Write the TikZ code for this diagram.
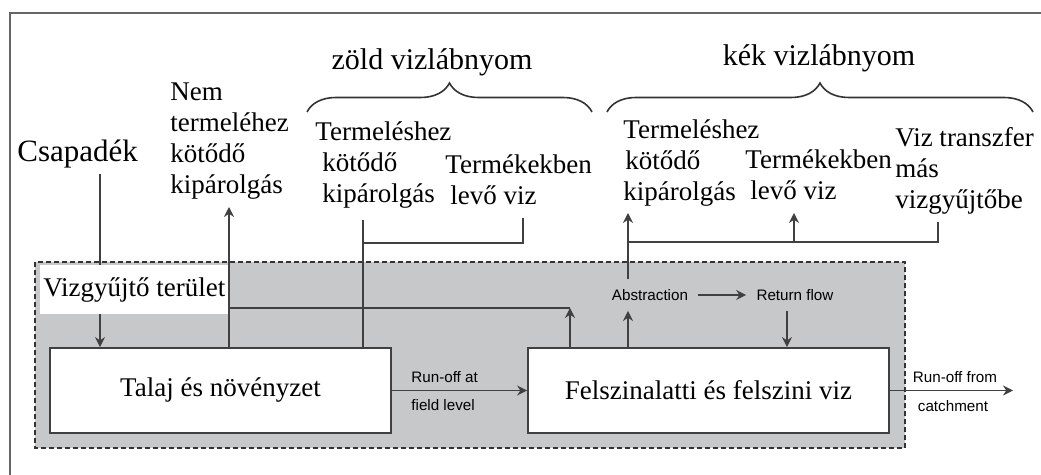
\documentclass[tikz,border=0pt]{standalone}
\usepackage{fontspec}
\setmainfont{Liberation Serif}
\setsansfont{Liberation Sans}
\usetikzlibrary{arrows.meta, decorations.pathreplacing, positioning}
\definecolor{szurke}{RGB}{199,200,202}
\tikzstyle{doboz} = [draw=black!75, line width=0.9pt, fill=white, minimum height=42.5pt, font=\fontsize{13.5}{15.5}\selectfont]
\tikzstyle{felirat} = [align=left, anchor=north west, inner sep=0pt, font=\fontsize{13.5}{15.5}\selectfont]
\tikzstyle{cim} = [inner sep=0pt, font=\fontsize{15}{17}\selectfont]
\tikzstyle{kicsi} = [inner sep=0pt, font=\sffamily\fontsize{7.6}{9}\selectfont]
\tikzstyle{nyil} = [draw=black!75, line width=0.9pt, -{Stealth[length=5pt,width=5pt]}]
\tikzstyle{vonal} = [draw=black!75, line width=0.9pt]
\tikzstyle{kapcsos} = [draw=black!80, line width=0.8pt, decorate, decoration={brace, amplitude=14.5pt}]

\begin{document}
\begin{tikzpicture}[x=0.5pt, y=-0.5pt]
	\useasboundingbox (0,0) rectangle (1041,475);
	\draw[black!60, line width=1pt] (1041,13) -- (10,13) -- (10,475);
	% vizgyujto terulet
	\draw[fill=szurke, draw=black!80, line width=0.9pt, dash pattern=on 2.5pt off 1.5pt] (35,262) rectangle (905,448);
	\node[doboz, minimum width=170.5pt] (talaj) at (220.5,390.5) {Talaj és növényzet};
	\node[doboz, minimum width=180.5pt] (felszin) at (708.5,390.5) {Felszinalatti és felszini viz};

	\node[inner sep=0pt, anchor=base west, font=\fontsize{15.5}{17}\selectfont] (csapadek) at (17,162) {Csapadék};
	\coordinate (cs) at (100,174);
	\draw[nyil] (cs) -- (talaj.north -| cs);
	\node[fill=white, anchor=north west, minimum width=94pt, minimum height=24.5pt, inner sep=0pt, font=\fontsize{13.5}{15.5}\selectfont] (terulet) at (40,265) {Vizgyűjtő terület};

	% szovegek
	\node[felirat] (nem) at (170,82) {Nem\\termeléhez\\kötődő\\kipárolgás};
	\node[felirat] (zoldkip) at (315,121) {Termeléshez\\\hspace*{3.5pt}kötődő\\\hspace*{3.5pt}kipárolgás};
	\node[felirat] (zoldterm) at (445,154) {Termékekben\\\hspace*{2.5pt}levő viz};
	\node[felirat] (kekkip) at (623,119) {Termeléshez\\\hspace*{1pt}kötődő\\kipárolgás};
	\node[felirat] (kekterm) at (745,149) {Termékekben\\\hspace*{2.5pt}levő viz};
	\node[felirat] (transz) at (895,127) {Viz transzfer\\más\\vizgyűjtőbe};

	\node[cim] (zold) at (432,62) {zöld vizlábnyom};
	\node[cim] (kek) at (819,58) {kék vizlábnyom};
	\draw[kapcsos] (307,112) -- (592,112);
	\draw[kapcsos] (607,112) -- (1033,112);

	% zold
	\coordinate (nk) at (229,207);
	\coordinate (fk) at (570,308);
	\draw[nyil] (talaj.north -| nk) -- (nk);
	\draw[vonal] (nk |- fk) -- (fk);
	\draw[nyil] (felszin.north -| fk) -- (fk);
	\coordinate (zk) at (363,220);
	\coordinate (zt) at (523,218);
	\draw[vonal] (zk) -- (talaj.north -| zk);
	\draw[vonal] (zk |- 0,243) -| (zt);

	% kek
	\node[kicsi, inner xsep=5pt, inner ysep=5pt] (abs) at (650,295) {Abstraction};
	\node[kicsi, inner xsep=5pt, inner ysep=5pt] (ret) at (795,295) {Return flow};
	\coordinate (kk) at (628,213);
	\coordinate (kt) at (794,213);
	\coordinate (kv) at (938,222);
	\draw[nyil] (abs.north -| kk) -- (kk);
	\draw[vonal] (kk |- 0,242) -| (kv);
	\draw[nyil] (kt |- 0,242) -- (kt);
	\draw[nyil] (felszin.north -| kk) -- (abs.south -| kk);
	\draw[nyil] (abs) -- (ret);
	\draw[nyil] (ret.south -| 787,0) -- (felszin.north -| 787,0);

	% lefolyas
	\draw[nyil] (talaj) -- (felszin);
	\node[kicsi, anchor=west] (ra) at (411,377) {Run-off at};
	\node[kicsi, anchor=west] (rb) at (411,405) {field level};
	\coordinate (ki) at (1013,390.5);
	\draw[nyil] (felszin) -- (ki);
	\node[kicsi] (rc) at (955,377) {Run-off from};
	\node[kicsi] (rd) at (953,406) {catchment};
\end{tikzpicture}
\end{document}
